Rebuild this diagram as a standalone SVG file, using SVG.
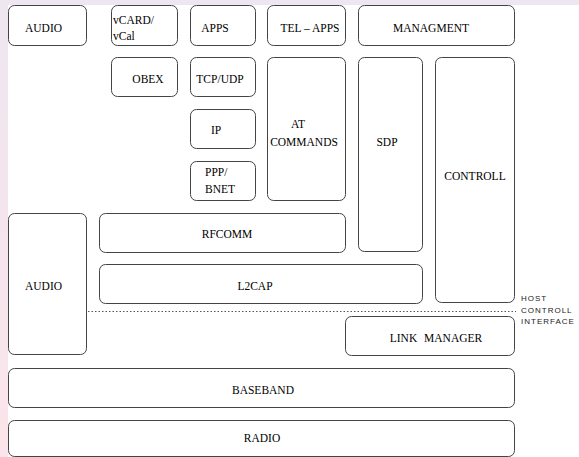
<svg xmlns="http://www.w3.org/2000/svg" width="579" height="457" viewBox="0 0 579 457">
<defs>
<linearGradient id="lg" x1="0" y1="0" x2="0" y2="1">
<stop offset="0" stop-color="#eee6f0"/>
<stop offset="1" stop-color="#fbe4ea"/>
</linearGradient>
</defs>
<style>
.b{fill:#fff;stroke:#444;stroke-width:1}
.t{font-family:'Liberation Serif','Times New Roman',serif;font-size:11.5px;fill:#000;text-anchor:middle}
.s{text-anchor:start}
.h{font-family:'Liberation Sans',Arial,sans-serif;font-size:8px;letter-spacing:1px;fill:#222}
</style>
<rect x="0" y="0" width="579" height="457" fill="#fff"/>
<rect x="0" y="0" width="579" height="5" fill="#eee6f0"/>
<rect x="0" y="0" width="8" height="457" fill="url(#lg)"/>
<g id="connectors">
<line x1="88" y1="311.5" x2="516" y2="311.5" stroke="#555" stroke-width="1" stroke-dasharray="1.5 2"/>
</g>
<g id="audio-top"><rect class="b" x="8.5" y="5.5" width="78" height="40" rx="6"/><text class="t" x="43.5" y="32">AUDIO</text></g>
<g id="vcard"><rect class="b" x="111.5" y="5.5" width="66" height="40" rx="6"/><text class="t s" x="113" y="24">vCARD/</text><text class="t s" x="113" y="40">vCal</text></g>
<g id="apps"><rect class="b" x="190.5" y="5.5" width="65" height="40" rx="6"/><text class="t" x="215" y="32">APPS</text></g>
<g id="tel-apps"><rect class="b" x="267.5" y="5.5" width="78" height="40" rx="6"/><text class="t" x="310" y="32">TEL – APPS</text></g>
<g id="managment"><rect class="b" x="358.5" y="5.5" width="156" height="40" rx="6"/><text class="t" x="431" y="32">MANAGMENT</text></g>
<g id="obex"><rect class="b" x="111.5" y="57.5" width="66" height="39" rx="6"/><text class="t" x="148" y="83">OBEX</text></g>
<g id="tcpudp"><rect class="b" x="190.5" y="57.5" width="65" height="39" rx="6"/><text class="t" x="220" y="83">TCP/UDP</text></g>
<g id="at-commands"><rect class="b" x="267.5" y="57.5" width="78" height="143" rx="6"/><text class="t" x="298" y="128">AT</text><text class="t" x="304" y="146">COMMANDS</text></g>
<g id="sdp"><rect class="b" x="358.5" y="57.5" width="64" height="194" rx="6"/><text class="t" x="387" y="146">SDP</text></g>
<g id="controll"><rect class="b" x="435.5" y="57.5" width="79" height="245" rx="6"/><text class="t" x="475" y="180">CONTROLL</text></g>
<g id="ip"><rect class="b" x="190.5" y="109.5" width="65" height="39" rx="6"/><text class="t" x="216" y="134">IP</text></g>
<g id="ppp-bnet"><rect class="b" x="190.5" y="161.5" width="65" height="39" rx="6"/><text class="t s" x="205" y="176">PPP/</text><text class="t s" x="205" y="193">BNET</text></g>
<g id="rfcomm"><rect class="b" x="99.5" y="213.5" width="246" height="39" rx="6"/><text class="t" x="227" y="238">RFCOMM</text></g>
<g id="l2cap"><rect class="b" x="99.5" y="264.5" width="323" height="39" rx="6"/><text class="t" x="255" y="290">L2CAP</text></g>
<g id="audio-left"><rect class="b" x="8.5" y="213.5" width="78" height="141" rx="6"/><text class="t" x="43.5" y="290">AUDIO</text></g>
<g id="link-manager"><rect class="b" x="345.5" y="316.5" width="169" height="39" rx="6"/><text class="t" x="436" y="342" word-spacing="4">LINK MANAGER</text></g>
<g id="baseband"><rect class="b" x="8.5" y="368.5" width="506" height="39" rx="6"/><text class="t" x="263" y="394">BASEBAND</text></g>
<g id="radio"><rect class="b" x="8.5" y="420.5" width="506" height="36" rx="6"/><text class="t" x="262" y="442">RADIO</text></g>
<g id="hci"><text class="h" x="521" y="301">HOST</text><text class="h" x="521" y="313">CONTROLL</text><text class="h" x="521" y="324">INTERFACE</text></g>
</svg>
